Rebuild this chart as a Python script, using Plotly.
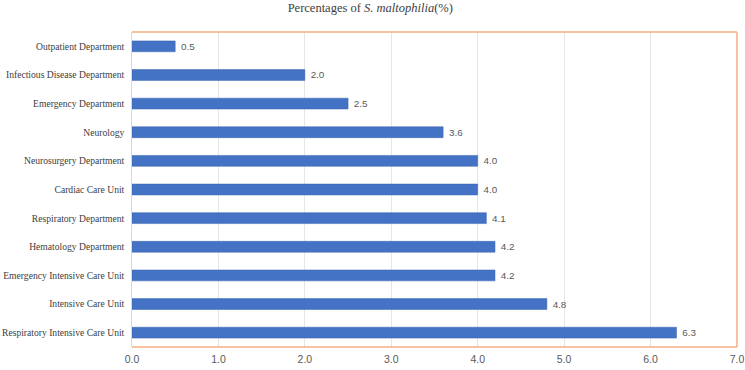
import plotly.graph_objects as go

categories = ["Outpatient Department", "Infectious Disease Department", "Emergency Department",
              "Neurology", "Neurosurgery Department", "Cardiac Care Unit", "Respiratory Department",
              "Hematology Department", "Emergency Intensive Care Unit", "Intensive Care Unit",
              "Respiratory Intensive Care Unit"]
values = [0.5, 2.0, 2.5, 3.6, 4.0, 4.0, 4.1, 4.2, 4.2, 4.8, 6.3]
x_ticks = [0, 1, 2, 3, 4, 5, 6, 7]
x_tick_labels = ["0.0", "1.0", "2.0", "3.0", "4.0", "5.0", "6.0", "7.0"]

fig = go.Figure(go.Bar(
    x=values, y=categories, orientation="h",
    marker=dict(color="#4472C4", line=dict(color="#3A64B0", width=0.5)),
    text=[f" {v:.1f}" for v in values], textposition="outside",
    textfont=dict(family="Liberation Sans Narrow, Liberation Sans, sans-serif", size=10, color="#595959"),
    cliponaxis=False,
))

orange = "#F4B183"
fig.update_layout(
    width=745, height=370,
    margin=dict(l=132, r=8, t=32, b=23, autoexpand=False),
    paper_bgcolor="white", plot_bgcolor="white",
    bargap=0.62,
    showlegend=False,
    title=dict(text="Percentages of <i>S. maltophilia</i>(%)", x=0.497, xanchor="center", y=0.99, yanchor="top",
               font=dict(family="Liberation Serif, serif", size=12.5, color="#404040")),
    xaxis=dict(range=[0, 7], tickvals=x_ticks, ticktext=x_tick_labels, showgrid=True, gridcolor="#E6E6E6",
               gridwidth=1, zeroline=False, showline=False, ticks="", ticklen=0, automargin=False,
               ticklabeloverflow="allow", ticklabelstandoff=4,
               tickfont=dict(family="Liberation Sans Narrow, Liberation Sans, sans-serif", size=10.5, color="#595959")),
    yaxis=dict(autorange="reversed", showline=True, linecolor="#D9D9D9", linewidth=1, ticks="",
               showgrid=False, ticksuffix="  ", automargin=False,
               tickfont=dict(family="Liberation Serif, serif", size=9.6, color="#404040")),
    shapes=[
        dict(type="line", xref="paper", yref="paper", x0=0, x1=1, y0=1, y1=1, line=dict(color=orange, width=1.5)),
        dict(type="line", xref="paper", yref="paper", x0=1, x1=1, y0=0, y1=1, line=dict(color=orange, width=1.5)),
        dict(type="line", xref="paper", yref="paper", x0=0, x1=1, y0=0, y1=0, line=dict(color=orange, width=1.5)),
    ],
)
fig.write_html("out.html", config={"displayModeBar": False},
               post_script="document.body.style.margin='0';")
